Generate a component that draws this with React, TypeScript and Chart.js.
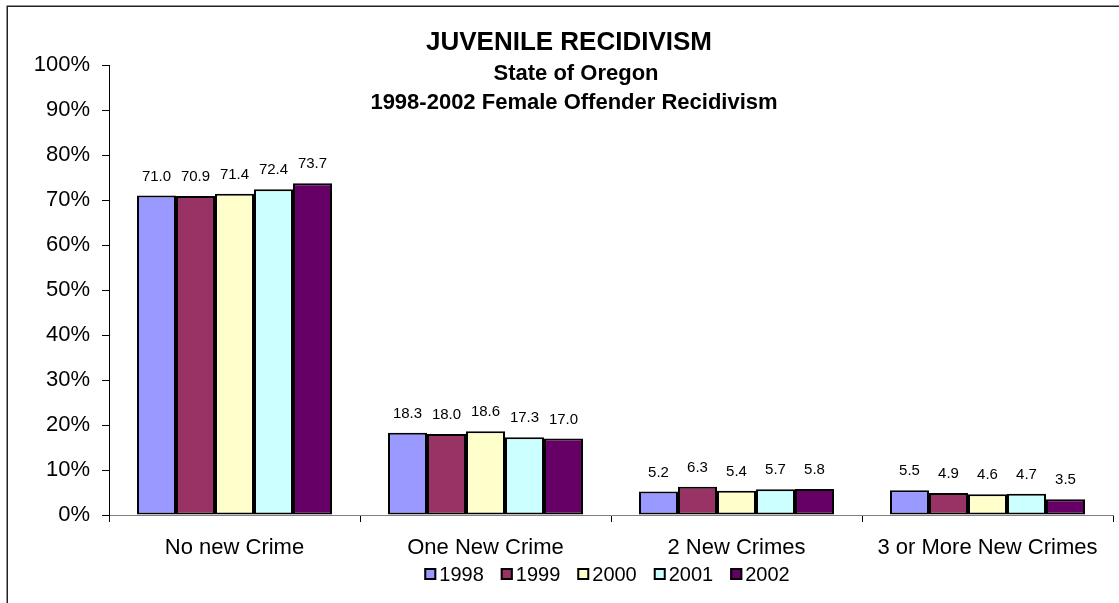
import React, { useEffect, useRef } from "react";
import { Chart, registerables } from "chart.js";

Chart.register(...registerables);

const categories = ["No new Crime", "One New Crime", "2 New Crimes", "3 or More New Crimes"];
const years = ["1998", "1999", "2000", "2001", "2002"];
const v1998 = [71.0, 18.3, 5.2, 5.5];
const v1999 = [70.9, 18.0, 6.3, 4.9];
const v2000 = [71.4, 18.6, 5.4, 4.6];
const v2001 = [72.4, 17.3, 5.7, 4.7];
const v2002 = [73.7, 17.0, 5.8, 3.5];
const seriesColors = ["#9999FF", "#993366", "#FFFFCC", "#CCFFFF", "#660066"];
const titleLines = ["JUVENILE RECIDIVISM", "State of Oregon", "1998-2002 Female Offender Recidivism"];

const FONT = "'Liberation Sans', Arial, sans-serif";

const framePlugin = {
  id: "frame",
  beforeDraw(chart: any) {
    const ctx = chart.ctx;
    ctx.save();
    ctx.fillStyle = "#ffffff";
    ctx.fillRect(0, 0, chart.width, chart.height);
    ctx.strokeStyle = "#222222";
    ctx.lineWidth = 1.5;
    ctx.strokeRect(7.25, 6.25, chart.width + 50, chart.height + 50);
    ctx.restore();
  },
};

const titlePlugin = {
  id: "customTitle",
  afterDraw(chart: any) {
    const ctx = chart.ctx;
    ctx.save();
    ctx.fillStyle = "#000";
    ctx.textAlign = "center";
    ctx.textBaseline = "middle";
    ctx.font = `bold 26px ${FONT}`;
    ctx.fillText(titleLines[0], 569, 43);
    ctx.font = `bold 22px ${FONT}`;
    ctx.fillText(titleLines[1], 576, 74);
    ctx.fillText(titleLines[2], 574, 103);
    ctx.restore();
  },
};

const legendPlugin = {
  id: "customLegend",
  afterDraw(chart: any) {
    const ctx = chart.ctx;
    ctx.save();
    ctx.font = `20px ${FONT}`;
    ctx.textAlign = "left";
    ctx.textBaseline = "middle";
    const gap = 3;
    const spacing = 17;
    const box = 12;
    const widths = chart.data.datasets.map((ds: any) => box + gap + ctx.measureText(ds.label).width);
    const total = widths.reduce((a: number, b: number) => a + b, 0) + spacing * (widths.length - 1);
    let x = 607 - total / 2;
    const cy = 574;
    chart.data.datasets.forEach((ds: any, i: number) => {
      ctx.fillStyle = ds.backgroundColor;
      ctx.fillRect(x, cy - box / 2, box, box);
      ctx.strokeStyle = "#000";
      ctx.lineWidth = 2;
      ctx.strokeRect(x + 1, cy - box / 2 + 1, box - 2, box - 2);
      ctx.fillStyle = "#000";
      ctx.fillText(ds.label, x + box + gap, cy + 1);
      x += widths[i] + spacing;
    });
    ctx.restore();
  },
};

const valueLabelPlugin = {
  id: "valueLabels",
  afterDatasetsDraw(chart: any) {
    const ctx = chart.ctx;
    ctx.save();
    ctx.fillStyle = "#000";
    ctx.textAlign = "center";
    ctx.textBaseline = "alphabetic";
    ctx.font = `15px ${FONT}`;
    chart.data.datasets.forEach((ds: any, i: number) => {
      const meta = chart.getDatasetMeta(i);
      meta.data.forEach((el: any, j: number) => {
        ctx.fillText(Number(ds.data[j]).toFixed(1), el.x, el.y - 15);
      });
    });
    ctx.restore();
  },
};

export default function App() {
  const ref = useRef<HTMLCanvasElement>(null);
  useEffect(() => {
    const seriesValues = [v1998, v1999, v2000, v2001, v2002];
    const chart = new Chart(ref.current as HTMLCanvasElement, {
      type: "bar",
      data: {
        labels: categories,
        datasets: years.map((y, i) => ({
          label: y,
          data: seriesValues[i],
          backgroundColor: seriesColors[i],
          borderColor: "#000000",
          borderWidth: 2,
          borderSkipped: false,
          barPercentage: 1,
          categoryPercentage: 0.777,
        })),
      },
      options: {
        responsive: false,
        animation: false,
        devicePixelRatio: 1,
        layout: { padding: { top: 65, right: 6, bottom: 0, left: 0 } },
        plugins: {
          title: { display: false },
          tooltip: { enabled: false },
          legend: { display: false },
        },
        scales: {
          x: {
            afterFit: (scale: any) => {
              scale.height = 88;
            },
            grid: {
              offset: true,
              drawOnChartArea: false,
              drawTicks: true,
              tickLength: 7,
              color: "#000",
            },
            border: { display: true, color: "#808080", width: 1 },
            ticks: {
              color: "#000",
              padding: 13,
              maxRotation: 0,
              autoSkip: false,
              font: { family: FONT, size: 22 },
            },
          },
          y: {
            min: 0,
            max: 100,
            afterFit: (scale: any) => {
              scale.width = 109;
            },
            grid: {
              drawOnChartArea: false,
              drawTicks: true,
              tickLength: 7,
              color: "#000",
            },
            border: { display: true, color: "#000", width: 1 },
            ticks: {
              stepSize: 10,
              color: "#000",
              padding: 12,
              font: { family: FONT, size: 22 },
              callback: (v: any) => `${v}%`,
            },
          },
        },
      },
      plugins: [framePlugin, titlePlugin, legendPlugin, valueLabelPlugin],
    } as any);
    return () => chart.destroy();
  }, []);
  return (
    <div style={{ position: "fixed", left: 0, top: 0, width: 1119, height: 603, background: "#fff" }}>
      <canvas ref={ref} width={1119} height={603} style={{ display: "block" }} />
    </div>
  );
}
